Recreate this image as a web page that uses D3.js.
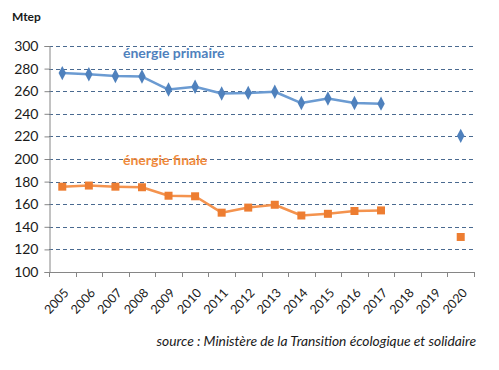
<!DOCTYPE html>
<html>
<head>
<meta charset="utf-8">
<script src="https://cdn.jsdelivr.net/npm/d3@7"></script>
<style>
    body { margin: 0; background: #fff; }
    text { font-family: Lato, "Open Sans", sans-serif; }
</style>
</head>
<body>
<svg id="chart" width="499" height="370"></svg>
<script>
var years = ['2005', '2006', '2007', '2008', '2009', '2010', '2011', '2012', '2013', '2014', '2015', '2016', '2017', '2018', '2019', '2020'];
var primaryValues = [276, 275, 273.5, 273, 261.5, 264, 258, 258.5, 259.5, 249.5, 253.5, 249.5, 249, null, null, 220.5];
var finalValues = [175.5, 176.5, 175.5, 175, 167.5, 167, 152.5, 157, 159.5, 150, 151.5, 154, 154.5, null, null, 131];
var yTicks = [100, 120, 140, 160, 180, 200, 220, 240, 260, 280, 300];

var svg = d3.select('#chart');

var plotLeft = 49, plotRight = 474, plotTop = 46, plotBottom = 272;

var x = d3.scaleBand().domain(years).range([plotLeft, plotRight]);
var y = d3.scaleLinear().domain([100, 300]).range([plotBottom, plotTop]);

// gridlines
svg.append('g')
    .selectAll('line')
    .data(yTicks.slice(1))
    .enter()
    .append('line')
    .attr('x1', plotLeft)
    .attr('x2', plotRight)
    .attr('y1', function(d) { return Math.round(y(d)) + 0.5; })
    .attr('y2', function(d) { return Math.round(y(d)) + 0.5; })
    .attr('stroke', '#4a6a90')
    .attr('stroke-width', 1)
    .attr('stroke-dasharray', '4,3');

// y axis
var yAxis = svg.append('g')
    .attr('transform', 'translate(' + (plotLeft + 0.5) + ',0)')
    .call(d3.axisLeft(y).tickValues(yTicks).tickSize(5).tickPadding(6));
yAxis.select('.domain').attr('stroke', '#868686');
yAxis.selectAll('.tick line').attr('stroke', '#868686');
yAxis.selectAll('.tick text')
    .attr('font-size', 14)
    .attr('fill', '#1a1a1a')
    .style('font-family', 'Lato, sans-serif');

// x axis
var xAxis = svg.append('g')
    .attr('transform', 'translate(0,' + (plotBottom + 0.5) + ')')
    .call(d3.axisBottom(x).tickSize(0).tickPadding(6));
xAxis.select('.domain').attr('stroke', '#868686').attr('d', 'M' + plotLeft + ',0H' + plotRight);
xAxis.selectAll('.tick text')
    .attr('font-size', 12.5)
    .attr('fill', '#1a1a1a')
    .attr('text-anchor', 'end')
    .attr('transform', 'translate(4,18) rotate(-47)')
    .attr('dy', '0.35em')
    .attr('y', 0)
    .attr('x', 0)
    .style('font-family', 'Lato, sans-serif');

// x tick marks at band edges
svg.append('g')
    .selectAll('line')
    .data(years.concat(['end']))
    .enter()
    .append('line')
    .attr('x1', function(d, i) { return Math.round(plotLeft + i * x.step()) + 0.5; })
    .attr('x2', function(d, i) { return Math.round(plotLeft + i * x.step()) + 0.5; })
    .attr('y1', plotBottom)
    .attr('y2', plotBottom + 5)
    .attr('stroke', '#868686');

var cx = function(d) { return x(d.year) + x.bandwidth() / 2; };

var drawSeries = function(values, lineColor, markerColor, marker)
{
    var data = years.map(function(yr, i) { return { year: yr, value: values[i] }; });

    var line = d3.line()
        .defined(function(d) { return d.value !== null; })
        .x(cx)
        .y(function(d) { return y(d.value); });

    svg.append('path')
        .datum(data)
        .attr('d', line)
        .attr('fill', 'none')
        .attr('stroke', lineColor)
        .attr('stroke-width', 2.5)
        .attr('stroke-linejoin', 'round');

    svg.append('g')
        .selectAll('path')
        .data(data.filter(function(d) { return d.value !== null; }))
        .enter()
        .append('path')
        .attr('d', d3.symbol().type(marker).size(marker === d3.symbolSquare ? 64 : 60))
        .attr('transform', function(d)
        {
            var t = 'translate(' + cx(d) + ',' + y(d.value) + ')';
            return marker === d3.symbolDiamond ? t + ' scale(0.9,1)' : t;
        })
        .attr('fill', markerColor);
};

drawSeries(primaryValues, '#6b9bd2', '#4f81bd', d3.symbolDiamond);
drawSeries(finalValues, '#f4934e', '#ed7d31', d3.symbolSquare);

// series labels
svg.append('text')
    .attr('x', 123)
    .attr('y', 58)
    .attr('font-size', 14)
    .attr('font-weight', 'bold')
    .attr('fill', '#4f81bd')
    .text('énergie primaire');

svg.append('text')
    .attr('x', 123)
    .attr('y', 165)
    .attr('font-size', 14)
    .attr('font-weight', 'bold')
    .attr('fill', '#f08a3c')
    .text('énergie finale');

// unit
svg.append('text')
    .attr('x', 12)
    .attr('y', 21)
    .attr('font-size', 12)
    .attr('font-weight', 'bold')
    .attr('fill', '#1a1a1a')
    .text('Mtep');

// source
svg.append('text')
    .attr('x', 476)
    .attr('y', 346)
    .attr('text-anchor', 'end')
    .attr('font-size', 13.8)
    .attr('font-style', 'italic')
    .attr('fill', '#1a1a1a')
    .text('source : Ministère de la Transition écologique et solidaire');
</script>
</body>
</html>
